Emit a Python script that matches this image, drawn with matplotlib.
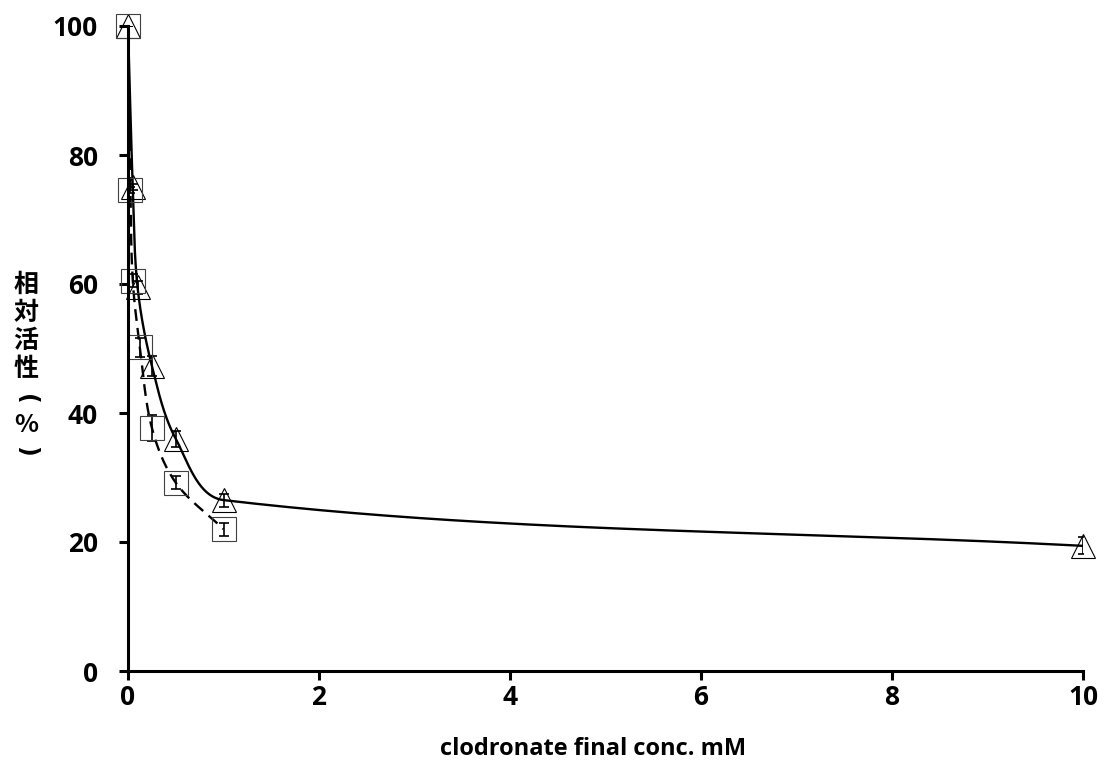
import numpy as np
import matplotlib
matplotlib.use("Agg")
import matplotlib.pyplot as plt

# Data
tri_x = [0, 0.05, 0.1, 0.25, 0.5, 1.0, 10.0]
tri_y = [100, 75, 59.5, 47.3, 36.0, 26.5, 19.4]
tri_err = [0.0, 0.5, 1.0, 1.5, 1.2, 1.0, 1.3]

sq_x = [0, 0.025, 0.05, 0.125, 0.25, 0.5, 1.0]
sq_y = [100, 74.6, 60.5, 50.2, 37.7, 29.2, 22.0]
sq_err = [0.0, 0.5, 1.0, 1.5, 2.0, 1.0, 1.0]

xticks = [0, 2, 4, 6, 8, 10]
yticks = [0, 20, 40, 60, 80, 100]
xlabel = "clodronate final conc. mM"
ylabel_chars = ["相", "対", "活", "性", "(", "%", ")"]

W, H = 1104, 765
fig = plt.figure(figsize=(W / 100, H / 100), dpi=100)
ax = fig.add_axes([128 / W, 1 - 671 / H, (1083 - 128) / W, (671 - 26) / H])
ax.set_xlim(0, 10)
ax.set_ylim(0, 100)


def smooth(xs, ys, n=80):
    # smoothed line (Bezier with tangent lengths limited by segment length),
    # computed in display-proportional space and mapped back to data units
    kx = ax.bbox.width / (ax.get_xlim()[1] - ax.get_xlim()[0])
    ky = ax.bbox.height / (ax.get_ylim()[1] - ax.get_ylim()[0])
    P = np.column_stack([np.asarray(xs, float) * kx, np.asarray(ys, float) * ky])
    m = len(P)
    T = []
    for i in range(m):
        a = P[i - 1] if i > 0 else P[i]
        b = P[i + 1] if i < m - 1 else P[i]
        d = b - a
        T.append(d / np.hypot(*d))
    out = []
    for i in range(m - 1):
        p1, p2 = P[i], P[i + 1]
        L = np.hypot(*(p2 - p1))
        c1 = p1 + T[i] * L / 3.0
        c2 = p2 - T[i + 1] * L / 3.0
        t = np.linspace(0, 1, n)[:, None]
        seg = ((1 - t) ** 3) * p1 + 3 * ((1 - t) ** 2) * t * c1 + 3 * (1 - t) * t ** 2 * c2 + t ** 3 * p2
        out.append(seg if i == 0 else seg[1:])
    S = np.vstack(out)
    return S[:, 0] / kx, S[:, 1] / ky


sx, sy = smooth(tri_x, tri_y)
ax.plot(sx, sy, color="black", lw=1.7, solid_capstyle="butt")
dx, dy = smooth(sq_x, sq_y)
ax.plot(dx, dy, color="black", lw=1.7, linestyle=(0, (5, 3)))

ax.errorbar(tri_x, tri_y, yerr=tri_err, fmt="none", ecolor="black", elinewidth=1.2, capsize=3.5, capthick=1.2)
ax.errorbar(sq_x, sq_y, yerr=sq_err, fmt="none", ecolor="black", elinewidth=1.2, capsize=3.5, capthick=1.2)

ax.plot(tri_x, tri_y, linestyle="none", marker="^", markersize=17, markerfacecolor="none",
        markeredgecolor="black", markeredgewidth=0.8, clip_on=False)
ax.plot(sq_x, sq_y, linestyle="none", marker="s", markersize=17, markerfacecolor="none",
        markeredgecolor="#404040", markeredgewidth=0.8, clip_on=False)

ax.set_xticks(xticks)
ax.set_yticks(yticks)
for s in ["top", "right"]:
    ax.spines[s].set_visible(False)
for s in ["left", "bottom"]:
    ax.spines[s].set_linewidth(2.2)
ax.tick_params(direction="out", length=6.5, width=2.2)
ax.tick_params(axis="y", pad=15)
ax.tick_params(axis="x", pad=3)
for lab in ax.get_xticklabels() + ax.get_yticklabels():
    lab.set_fontfamily("Open Sans")
    lab.set_fontweight("bold")
    lab.set_fontsize(19)

ax.set_xlabel(xlabel, fontfamily="Open Sans", fontweight="bold", fontsize=17)
ax.xaxis.set_label_coords((593 - 128) / (1083 - 128), -0.102)

yc = [285, 313, 341, 369, 399, 425, 451]
for ch, y in zip(ylabel_chars, yc):
    if ch in ("(", ")"):
        fig.text(26 / W, 1 - y / H, ch, ha="center", va="center", rotation=-90,
                 fontfamily="DejaVu Sans", fontweight="bold", fontsize=17)
    else:
        fig.text(26 / W, 1 - y / H, ch, ha="center", va="center",
                 fontfamily=["Noto Sans CJK JP", "DejaVu Sans"], fontweight="bold", fontsize=18)

fig.savefig("out.png", dpi=100)
